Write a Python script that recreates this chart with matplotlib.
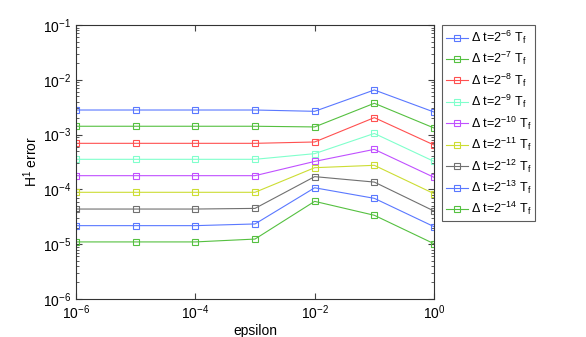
import numpy as np
import matplotlib
matplotlib.use('Agg')
from matplotlib import pyplot as plt
from matplotlib.ticker import LogLocator, NullLocator, NullFormatter

plt.rcParams['font.family'] = ['Liberation Sans', 'DejaVu Sans']
plt.rcParams['mathtext.fontset'] = 'custom'
plt.rcParams['mathtext.rm'] = 'Liberation Sans'
plt.rcParams['mathtext.it'] = 'Liberation Sans'
plt.rcParams['mathtext.default'] = 'regular'

epsilon = [1e-6, 1e-5, 1e-4, 1e-3, 1e-2, 1e-1, 1e0]
exponents = [6, 7, 8, 9, 10, 11, 12, 13, 14]

err_6 = [2.81e-3, 2.81e-3, 2.81e-3, 2.81e-3, 2.66e-3, 6.52e-3, 2.58e-3]
err_7 = [1.42e-3, 1.42e-3, 1.42e-3, 1.42e-3, 1.38e-3, 3.73e-3, 1.32e-3]
err_8 = [6.93e-4, 6.93e-4, 6.93e-4, 6.93e-4, 7.33e-4, 2.04e-3, 6.46e-4]
err_9 = [3.54e-4, 3.54e-4, 3.54e-4, 3.54e-4, 4.49e-4, 1.05e-3, 3.24e-4]
err_10 = [1.78e-4, 1.78e-4, 1.78e-4, 1.78e-4, 3.24e-4, 5.38e-4, 1.66e-4]
err_11 = [8.85e-5, 8.85e-5, 8.85e-5, 8.85e-5, 2.49e-4, 2.75e-4, 8.36e-5]
err_12 = [4.38e-5, 4.38e-5, 4.38e-5, 4.5e-5, 1.71e-4, 1.36e-4, 4.03e-5]
err_13 = [2.18e-5, 2.18e-5, 2.18e-5, 2.34e-5, 1.07e-4, 6.87e-5, 2.09e-5]
err_14 = [1.10e-5, 1.10e-5, 1.10e-5, 1.24e-5, 6.05e-5, 3.37e-5, 1.02e-5]
errors = [err_6, err_7, err_8, err_9, err_10, err_11, err_12, err_13, err_14]

colors = ['#5a78ff', '#55c040', '#ff5050', '#80ffcc', '#c050ff',
          '#ccdd33', '#707070', '#5a78ff', '#55c040']

fig = plt.figure(figsize=(5.86, 3.37), dpi=100)
ax = fig.add_axes([0.1297, 0.1128, 0.6109, 0.8130])

for n, err, c in zip(exponents, errors, colors):
    ax.loglog(epsilon, err, color=c, lw=0.8, marker='s', ms=4,
              mfc='none', mec=c, mew=0.8,
              label=r'$\Delta$ t=2$^{-%d}$ T$_f$' % n)

ax.set_xlim(1e-6, 1)
ax.set_ylim(1e-6, 1e-1)
ax.xaxis.set_major_locator(LogLocator(base=100))
ax.xaxis.set_minor_locator(NullLocator())
ax.yaxis.set_major_locator(LogLocator(base=10))
ax.yaxis.set_minor_locator(LogLocator(base=10, subs=np.arange(2, 10)))
ax.yaxis.set_minor_formatter(NullFormatter())
ax.tick_params(which='both', direction='in', top=True, right=True,
               labelsize=10, color='#444444')
ax.tick_params(which='major', length=4)
ax.tick_params(which='minor', length=2)
for s in ax.spines.values():
    s.set_color('#333333')
    s.set_linewidth(0.8)

ax.set_xlabel('epsilon', fontsize=10, labelpad=1)
ax.set_ylabel('H$^1$ error', fontsize=10, labelpad=2)

leg = fig.legend(loc='upper left', bbox_to_anchor=(442 / 586, 1 - 25 / 337),
                 fontsize=9, frameon=True, fancybox=False, edgecolor='#333333',
                 borderpad=0.3, labelspacing=0.33, handlelength=1.8,
                 handletextpad=0.2, borderaxespad=0)
leg.get_frame().set_linewidth(0.8)

fig.savefig('out.png', dpi=100)
